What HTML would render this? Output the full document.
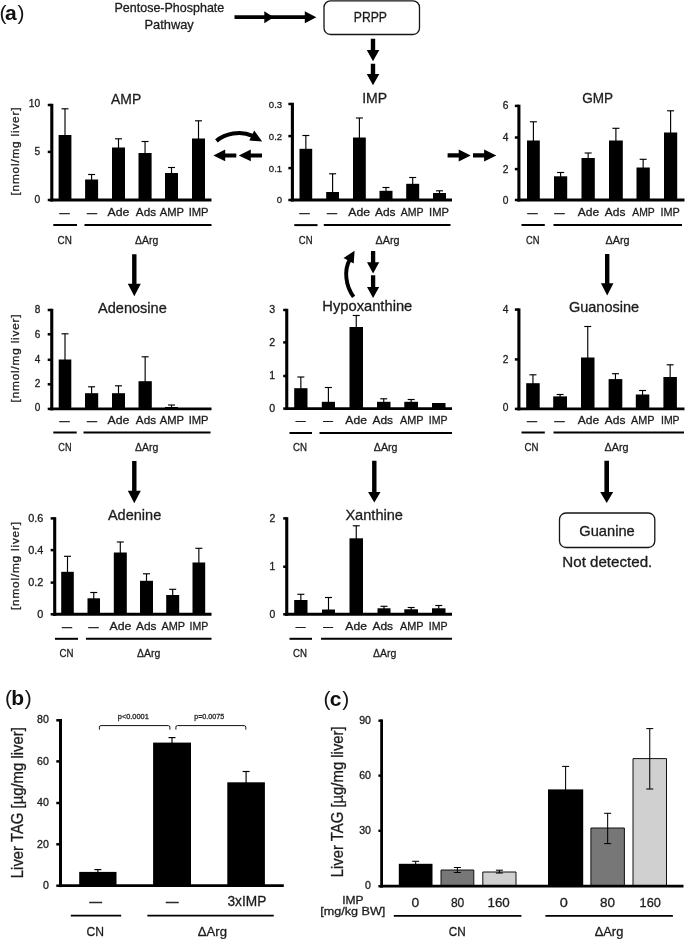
<!DOCTYPE html>
<html lang="en">
<head>
<meta charset="utf-8">
<title>Purine metabolite figure</title>
<style>
html,body{margin:0;padding:0;background:#fff;}
body{width:685px;height:939px;overflow:hidden;font-family:"Liberation Sans",sans-serif;}
svg{display:block;filter:blur(0.45px);}
</style>
</head>
<body>
<svg width="685" height="939" viewBox="0 0 685 939" font-family="'Liberation Sans', sans-serif" stroke-linejoin="round">
<rect width="685" height="939" fill="#fff"/>
<text x="-0.6" y="20.3" font-size="21" fill="#151515" stroke="none">(</text>
<text x="5" y="20.3" font-size="21" font-weight="bold" fill="#111" stroke="none">a</text>
<text x="17.4" y="20.3" font-size="21" fill="#151515" stroke="none">)</text>
<text x="4.9" y="705.4" font-size="21" fill="#151515" stroke="none">(</text>
<text x="11.3" y="705.4" font-size="21" font-weight="bold" fill="#111" stroke="none">b</text>
<text x="24.7" y="705.4" font-size="21" fill="#151515" stroke="none">)</text>
<text x="323.6" y="705.7" font-size="21" fill="#151515" stroke="none">(</text>
<text x="329.8" y="705.7" font-size="21" font-weight="bold" fill="#111" stroke="none">c</text>
<text x="342.3" y="705.7" font-size="21" fill="#151515" stroke="none">)</text>
<text x="114.5" y="12.2" font-size="13.2" textLength="109.8" lengthAdjust="spacingAndGlyphs" fill="#1c1c1c" stroke="#1c1c1c" stroke-width="0.3">Pentose-Phosphate</text>
<text x="144.5" y="28.8" font-size="13.2" textLength="49.3" lengthAdjust="spacingAndGlyphs" fill="#1c1c1c" stroke="#1c1c1c" stroke-width="0.3">Pathway</text>
<path d="M234.5 15.3 V19.1 H264.3 V23.2 L273.8 17.2 L264.3 11.2 V15.3 Z" fill="#000"/>
<path d="M268 15.3 V19.1 H304.8 V23.2 L316.3 17.2 L304.8 11.2 V15.3 Z" fill="#000"/>
<rect x="324" y="0.8" width="95.5" height="33.7" rx="6.5" ry="6.5" fill="#fff" stroke="#151515" stroke-width="1.3"/>
<text x="353.8" y="22.2" font-size="14.2" textLength="33.2" lengthAdjust="spacingAndGlyphs" fill="#1c1c1c" stroke="#1c1c1c" stroke-width="0.3">PRPP</text>
<path d="M370.8 38.8 H375.2 V50 H379.25 L373 61.3 L366.75 50 H370.8 Z" fill="#000"/>
<path d="M370.8 63.8 H375.2 V73.9 H379.25 L373 85.2 L366.75 73.9 H370.8 Z" fill="#000"/>
<line x1="65" y1="108.8" x2="65" y2="136" stroke="#000" stroke-width="1.15"/>
<line x1="61.5" y1="108.8" x2="68.5" y2="108.8" stroke="#000" stroke-width="1.15"/>
<line x1="91.6" y1="174.5" x2="91.6" y2="180.5" stroke="#000" stroke-width="1.15"/>
<line x1="88.1" y1="174.5" x2="95.1" y2="174.5" stroke="#000" stroke-width="1.15"/>
<line x1="118.5" y1="138.8" x2="118.5" y2="148.5" stroke="#000" stroke-width="1.15"/>
<line x1="115" y1="138.8" x2="122" y2="138.8" stroke="#000" stroke-width="1.15"/>
<line x1="145.05" y1="141.5" x2="145.05" y2="154" stroke="#000" stroke-width="1.15"/>
<line x1="141.55" y1="141.5" x2="148.55" y2="141.5" stroke="#000" stroke-width="1.15"/>
<line x1="171.5" y1="167.5" x2="171.5" y2="174" stroke="#000" stroke-width="1.15"/>
<line x1="168" y1="167.5" x2="175" y2="167.5" stroke="#000" stroke-width="1.15"/>
<line x1="198.5" y1="120.8" x2="198.5" y2="139.5" stroke="#000" stroke-width="1.15"/>
<line x1="195" y1="120.8" x2="202" y2="120.8" stroke="#000" stroke-width="1.15"/>
<rect x="58.6" y="135" width="12.8" height="65" fill="#000"/>
<rect x="85.1" y="179.5" width="13" height="20.5" fill="#000"/>
<rect x="112" y="147.5" width="13" height="52.5" fill="#000"/>
<rect x="138.5" y="153" width="13.1" height="47" fill="#000"/>
<rect x="165" y="173" width="13" height="27" fill="#000"/>
<rect x="192" y="138.5" width="13" height="61.5" fill="#000"/>
<line x1="51.8" y1="103.8" x2="51.8" y2="201.45" stroke="#000" stroke-width="3.1"/>
<line x1="50.25" y1="200" x2="211.5" y2="200" stroke="#000" stroke-width="2.9"/>
<line x1="47.75" y1="105" x2="51.8" y2="105" stroke="#000" stroke-width="2.5"/>
<text x="40.1" y="107.4" font-size="10.2" text-anchor="end" fill="#1c1c1c" stroke="#1c1c1c" stroke-width="0.3">10</text>
<line x1="47.75" y1="151.9" x2="51.8" y2="151.9" stroke="#000" stroke-width="2.5"/>
<text x="40.1" y="155.45" font-size="10.2" text-anchor="end" fill="#1c1c1c" stroke="#1c1c1c" stroke-width="0.3">5</text>
<line x1="47.75" y1="200" x2="51.8" y2="200" stroke="#000" stroke-width="2.5"/>
<text x="40.1" y="203.15" font-size="10.2" text-anchor="end" fill="#1c1c1c" stroke="#1c1c1c" stroke-width="0.3">0</text>
<text x="111.1" y="103.7" font-size="14.4" textLength="30.1" lengthAdjust="spacingAndGlyphs" fill="#1c1c1c" stroke="#1c1c1c" stroke-width="0.3">AMP</text>
<text transform="translate(19.1 151.5) rotate(-90)" x="-44" y="0" font-size="11.8" textLength="88" lengthAdjust="spacing" fill="#1c1c1c" stroke="#1c1c1c" stroke-width="0.3">[nmol/mg liver]</text>
<text x="59.5" y="216.2" font-size="10" textLength="10" lengthAdjust="spacingAndGlyphs" fill="#1c1c1c" stroke="#1c1c1c" stroke-width="0.5">—</text>
<text x="87" y="216.2" font-size="10" textLength="10" lengthAdjust="spacingAndGlyphs" fill="#1c1c1c" stroke="#1c1c1c" stroke-width="0.5">—</text>
<text x="107.5" y="216.3" font-size="11.6" textLength="21.9" lengthAdjust="spacingAndGlyphs" fill="#1c1c1c" stroke="#1c1c1c" stroke-width="0.3">Ade</text>
<text x="135.8" y="216.3" font-size="11.6" textLength="20.3" lengthAdjust="spacingAndGlyphs" fill="#1c1c1c" stroke="#1c1c1c" stroke-width="0.3">Ads</text>
<text x="159.7" y="216.3" font-size="11.6" textLength="24.3" lengthAdjust="spacingAndGlyphs" fill="#1c1c1c" stroke="#1c1c1c" stroke-width="0.3">AMP</text>
<text x="188.7" y="216.3" font-size="11.6" textLength="19.9" lengthAdjust="spacingAndGlyphs" fill="#1c1c1c" stroke="#1c1c1c" stroke-width="0.3">IMP</text>
<line x1="53.3" y1="225" x2="77" y2="225" stroke="#000" stroke-width="2"/>
<line x1="84.5" y1="225" x2="211.5" y2="225" stroke="#000" stroke-width="2"/>
<text x="57.5" y="244.3" font-size="11.3" textLength="14.3" lengthAdjust="spacingAndGlyphs" fill="#1c1c1c" stroke="#1c1c1c" stroke-width="0.3">CN</text>
<text x="135" y="244.3" font-size="11.3" textLength="23.3" lengthAdjust="spacingAndGlyphs" fill="#1c1c1c" stroke="#1c1c1c" stroke-width="0.3">ΔArg</text>
<line x1="305.85" y1="135.5" x2="305.85" y2="149.8" stroke="#000" stroke-width="1.15"/>
<line x1="302.35" y1="135.5" x2="309.35" y2="135.5" stroke="#000" stroke-width="1.15"/>
<line x1="332.6" y1="173.8" x2="332.6" y2="193" stroke="#000" stroke-width="1.15"/>
<line x1="329.1" y1="173.8" x2="336.1" y2="173.8" stroke="#000" stroke-width="1.15"/>
<line x1="359.4" y1="118" x2="359.4" y2="138.5" stroke="#000" stroke-width="1.15"/>
<line x1="355.9" y1="118" x2="362.9" y2="118" stroke="#000" stroke-width="1.15"/>
<line x1="386" y1="187.5" x2="386" y2="191.8" stroke="#000" stroke-width="1.15"/>
<line x1="382.5" y1="187.5" x2="389.5" y2="187.5" stroke="#000" stroke-width="1.15"/>
<line x1="412.7" y1="177.5" x2="412.7" y2="184.8" stroke="#000" stroke-width="1.15"/>
<line x1="409.2" y1="177.5" x2="416.2" y2="177.5" stroke="#000" stroke-width="1.15"/>
<line x1="439.5" y1="190.8" x2="439.5" y2="194" stroke="#000" stroke-width="1.15"/>
<line x1="436" y1="190.8" x2="443" y2="190.8" stroke="#000" stroke-width="1.15"/>
<rect x="299.5" y="148.8" width="12.7" height="51.2" fill="#000"/>
<rect x="326.2" y="192" width="12.8" height="8" fill="#000"/>
<rect x="353" y="137.5" width="12.8" height="62.5" fill="#000"/>
<rect x="379.5" y="190.8" width="13" height="9.2" fill="#000"/>
<rect x="406.2" y="183.8" width="13" height="16.2" fill="#000"/>
<rect x="433" y="193" width="13" height="7" fill="#000"/>
<line x1="292.4" y1="102.8" x2="292.4" y2="201.45" stroke="#000" stroke-width="3.1"/>
<line x1="290.85" y1="200" x2="452" y2="200" stroke="#000" stroke-width="2.9"/>
<line x1="288.35" y1="104" x2="292.4" y2="104" stroke="#000" stroke-width="2.5"/>
<text x="282.2" y="107.54" font-size="9.6" text-anchor="end" fill="#1c1c1c" stroke="#1c1c1c" stroke-width="0.3">0.3</text>
<line x1="288.35" y1="136.1" x2="292.4" y2="136.1" stroke="#000" stroke-width="2.5"/>
<text x="282.2" y="139.64" font-size="9.6" text-anchor="end" fill="#1c1c1c" stroke="#1c1c1c" stroke-width="0.3">0.2</text>
<line x1="288.35" y1="168.1" x2="292.4" y2="168.1" stroke="#000" stroke-width="2.5"/>
<text x="282.2" y="171.64" font-size="9.6" text-anchor="end" fill="#1c1c1c" stroke="#1c1c1c" stroke-width="0.3">0.1</text>
<line x1="288.35" y1="200" x2="292.4" y2="200" stroke="#000" stroke-width="2.5"/>
<text x="282.2" y="203.44" font-size="9.6" text-anchor="end" fill="#1c1c1c" stroke="#1c1c1c" stroke-width="0.3">0</text>
<text x="362.2" y="103" font-size="14.4" textLength="25" lengthAdjust="spacingAndGlyphs" fill="#1c1c1c" stroke="#1c1c1c" stroke-width="0.3">IMP</text>
<text x="299.5" y="216.2" font-size="10" textLength="10" lengthAdjust="spacingAndGlyphs" fill="#1c1c1c" stroke="#1c1c1c" stroke-width="0.5">—</text>
<text x="327" y="216.2" font-size="10" textLength="10" lengthAdjust="spacingAndGlyphs" fill="#1c1c1c" stroke="#1c1c1c" stroke-width="0.5">—</text>
<text x="348.3" y="216.3" font-size="11.6" textLength="21.8" lengthAdjust="spacingAndGlyphs" fill="#1c1c1c" stroke="#1c1c1c" stroke-width="0.3">Ade</text>
<text x="375" y="216.3" font-size="11.6" textLength="20.6" lengthAdjust="spacingAndGlyphs" fill="#1c1c1c" stroke="#1c1c1c" stroke-width="0.3">Ads</text>
<text x="400.8" y="216.3" font-size="11.6" textLength="22.8" lengthAdjust="spacingAndGlyphs" fill="#1c1c1c" stroke="#1c1c1c" stroke-width="0.3">AMP</text>
<text x="429.1" y="216.3" font-size="11.6" textLength="19.9" lengthAdjust="spacingAndGlyphs" fill="#1c1c1c" stroke="#1c1c1c" stroke-width="0.3">IMP</text>
<line x1="294.3" y1="225.1" x2="317.5" y2="225.1" stroke="#000" stroke-width="2"/>
<line x1="323.8" y1="225.1" x2="450.5" y2="225.1" stroke="#000" stroke-width="2"/>
<text x="298.8" y="243.8" font-size="11.3" textLength="13.7" lengthAdjust="spacingAndGlyphs" fill="#1c1c1c" stroke="#1c1c1c" stroke-width="0.3">CN</text>
<text x="375.5" y="243.8" font-size="11.3" textLength="24" lengthAdjust="spacingAndGlyphs" fill="#1c1c1c" stroke="#1c1c1c" stroke-width="0.3">ΔArg</text>
<line x1="533.4" y1="121.8" x2="533.4" y2="141.5" stroke="#000" stroke-width="1.15"/>
<line x1="529.9" y1="121.8" x2="536.9" y2="121.8" stroke="#000" stroke-width="1.15"/>
<line x1="560.6" y1="172.5" x2="560.6" y2="177.3" stroke="#000" stroke-width="1.15"/>
<line x1="557.1" y1="172.5" x2="564.1" y2="172.5" stroke="#000" stroke-width="1.15"/>
<line x1="588.15" y1="153" x2="588.15" y2="159" stroke="#000" stroke-width="1.15"/>
<line x1="584.65" y1="153" x2="591.65" y2="153" stroke="#000" stroke-width="1.15"/>
<line x1="615.9" y1="128.3" x2="615.9" y2="141.5" stroke="#000" stroke-width="1.15"/>
<line x1="612.4" y1="128.3" x2="619.4" y2="128.3" stroke="#000" stroke-width="1.15"/>
<line x1="643.15" y1="159.3" x2="643.15" y2="168.5" stroke="#000" stroke-width="1.15"/>
<line x1="639.65" y1="159.3" x2="646.65" y2="159.3" stroke="#000" stroke-width="1.15"/>
<line x1="670.6" y1="110.8" x2="670.6" y2="133.5" stroke="#000" stroke-width="1.15"/>
<line x1="667.1" y1="110.8" x2="674.1" y2="110.8" stroke="#000" stroke-width="1.15"/>
<rect x="527" y="140.5" width="12.8" height="59.5" fill="#000"/>
<rect x="554" y="176.3" width="13.2" height="23.7" fill="#000"/>
<rect x="581.5" y="158" width="13.3" height="42" fill="#000"/>
<rect x="609" y="140.5" width="13.8" height="59.5" fill="#000"/>
<rect x="636.5" y="167.5" width="13.3" height="32.5" fill="#000"/>
<rect x="664" y="132.5" width="13.2" height="67.5" fill="#000"/>
<line x1="518.9" y1="104.7" x2="518.9" y2="201.45" stroke="#000" stroke-width="3.1"/>
<line x1="517.35" y1="200" x2="684.5" y2="200" stroke="#000" stroke-width="2.9"/>
<line x1="514.85" y1="105.9" x2="518.9" y2="105.9" stroke="#000" stroke-width="2.5"/>
<text x="508.4" y="109.35" font-size="10.2" text-anchor="end" fill="#1c1c1c" stroke="#1c1c1c" stroke-width="0.3">6</text>
<line x1="514.85" y1="137.5" x2="518.9" y2="137.5" stroke="#000" stroke-width="2.5"/>
<text x="508.4" y="141.05" font-size="10.2" text-anchor="end" fill="#1c1c1c" stroke="#1c1c1c" stroke-width="0.3">4</text>
<line x1="514.85" y1="169.1" x2="518.9" y2="169.1" stroke="#000" stroke-width="2.5"/>
<text x="508.4" y="172.65" font-size="10.2" text-anchor="end" fill="#1c1c1c" stroke="#1c1c1c" stroke-width="0.3">2</text>
<line x1="514.85" y1="200" x2="518.9" y2="200" stroke="#000" stroke-width="2.5"/>
<text x="508.4" y="203.65" font-size="10.2" text-anchor="end" fill="#1c1c1c" stroke="#1c1c1c" stroke-width="0.3">0</text>
<text x="582.3" y="102.7" font-size="14.4" textLength="30.8" lengthAdjust="spacingAndGlyphs" fill="#1c1c1c" stroke="#1c1c1c" stroke-width="0.3">GMP</text>
<text x="527.5" y="216.2" font-size="10" textLength="10" lengthAdjust="spacingAndGlyphs" fill="#1c1c1c" stroke="#1c1c1c" stroke-width="0.5">—</text>
<text x="554.5" y="216.2" font-size="10" textLength="10" lengthAdjust="spacingAndGlyphs" fill="#1c1c1c" stroke="#1c1c1c" stroke-width="0.5">—</text>
<text x="577.8" y="216.3" font-size="11.6" textLength="21.4" lengthAdjust="spacingAndGlyphs" fill="#1c1c1c" stroke="#1c1c1c" stroke-width="0.3">Ade</text>
<text x="604.8" y="216.3" font-size="11.6" textLength="20.6" lengthAdjust="spacingAndGlyphs" fill="#1c1c1c" stroke="#1c1c1c" stroke-width="0.3">Ads</text>
<text x="632.3" y="216.3" font-size="11.6" textLength="22.5" lengthAdjust="spacingAndGlyphs" fill="#1c1c1c" stroke="#1c1c1c" stroke-width="0.3">AMP</text>
<text x="660.5" y="216.3" font-size="11.6" textLength="19.3" lengthAdjust="spacingAndGlyphs" fill="#1c1c1c" stroke="#1c1c1c" stroke-width="0.3">IMP</text>
<line x1="521.5" y1="225" x2="544.8" y2="225" stroke="#000" stroke-width="2"/>
<line x1="553.5" y1="225" x2="682" y2="225" stroke="#000" stroke-width="2"/>
<text x="526" y="243.8" font-size="11.3" textLength="13.5" lengthAdjust="spacingAndGlyphs" fill="#1c1c1c" stroke="#1c1c1c" stroke-width="0.3">CN</text>
<text x="605.5" y="243.8" font-size="11.3" textLength="24.1" lengthAdjust="spacingAndGlyphs" fill="#1c1c1c" stroke="#1c1c1c" stroke-width="0.3">ΔArg</text>
<path d="M216.4 140.9 C225 133.8 240 130.2 252.5 135.8" fill="none" stroke="#000" stroke-width="4"/>
<path d="M254.2 130.6 L262.2 141.4 L249.3 140.6 Z" fill="#000"/>
<path d="M236.3 153.4 V157.4 H225.2 V161.3 L213.4 155.4 L225.2 149.5 V153.4 Z" fill="#000"/>
<path d="M262 153.4 V157.4 H250.8 V161.3 L238.8 155.4 L250.8 149.5 V153.4 Z" fill="#000"/>
<path d="M447.6 153.35 V157.45 H458.7 V161.4 L470.7 155.4 L458.7 149.4 V153.35 Z" fill="#000"/>
<path d="M473 153.35 V157.45 H484.1 V161.4 L496.3 155.4 L484.1 149.4 V153.35 Z" fill="#000"/>
<path d="M132.1 254.2 H136.5 V283.7 H140.8 L134.3 296.2 L127.8 283.7 H132.1 Z" fill="#000"/>
<line x1="65" y1="333.8" x2="65" y2="360.5" stroke="#000" stroke-width="1.15"/>
<line x1="61.5" y1="333.8" x2="68.5" y2="333.8" stroke="#000" stroke-width="1.15"/>
<line x1="91.6" y1="386.8" x2="91.6" y2="394.2" stroke="#000" stroke-width="1.15"/>
<line x1="88.1" y1="386.8" x2="95.1" y2="386.8" stroke="#000" stroke-width="1.15"/>
<line x1="118.5" y1="385.8" x2="118.5" y2="394.2" stroke="#000" stroke-width="1.15"/>
<line x1="115" y1="385.8" x2="122" y2="385.8" stroke="#000" stroke-width="1.15"/>
<line x1="145.15" y1="356.8" x2="145.15" y2="382.2" stroke="#000" stroke-width="1.15"/>
<line x1="141.65" y1="356.8" x2="148.65" y2="356.8" stroke="#000" stroke-width="1.15"/>
<line x1="171.5" y1="405" x2="171.5" y2="408" stroke="#000" stroke-width="1.15"/>
<line x1="168" y1="405" x2="175" y2="405" stroke="#000" stroke-width="1.15"/>
<rect x="58.7" y="359.5" width="12.6" height="49.4" fill="#000"/>
<rect x="85" y="393.2" width="13.2" height="15.7" fill="#000"/>
<rect x="112" y="393.2" width="13" height="15.7" fill="#000"/>
<rect x="138.5" y="381.2" width="13.3" height="27.7" fill="#000"/>
<rect x="165" y="407" width="13" height="1.9" fill="#000"/>
<line x1="51.75" y1="308.8" x2="51.75" y2="410.35" stroke="#000" stroke-width="3.1"/>
<line x1="50.2" y1="408.9" x2="211.5" y2="408.9" stroke="#000" stroke-width="2.9"/>
<line x1="47.7" y1="310" x2="51.75" y2="310" stroke="#000" stroke-width="2.5"/>
<text x="40.2" y="313.18" font-size="10" text-anchor="end" fill="#1c1c1c" stroke="#1c1c1c" stroke-width="0.3">8</text>
<line x1="47.7" y1="334.3" x2="51.75" y2="334.3" stroke="#000" stroke-width="2.5"/>
<text x="40.2" y="337.68" font-size="10" text-anchor="end" fill="#1c1c1c" stroke="#1c1c1c" stroke-width="0.3">6</text>
<line x1="47.7" y1="359.8" x2="51.75" y2="359.8" stroke="#000" stroke-width="2.5"/>
<text x="40.2" y="362.88" font-size="10" text-anchor="end" fill="#1c1c1c" stroke="#1c1c1c" stroke-width="0.3">4</text>
<line x1="47.7" y1="384.3" x2="51.75" y2="384.3" stroke="#000" stroke-width="2.5"/>
<text x="40.2" y="387.18" font-size="10" text-anchor="end" fill="#1c1c1c" stroke="#1c1c1c" stroke-width="0.3">2</text>
<line x1="47.7" y1="408.9" x2="51.75" y2="408.9" stroke="#000" stroke-width="2.5"/>
<text x="40.2" y="411.48" font-size="10" text-anchor="end" fill="#1c1c1c" stroke="#1c1c1c" stroke-width="0.3">0</text>
<text x="98" y="313" font-size="14.4" textLength="68.8" lengthAdjust="spacingAndGlyphs" fill="#1c1c1c" stroke="#1c1c1c" stroke-width="0.3">Adenosine</text>
<text transform="translate(19.1 358.4) rotate(-90)" x="-44" y="0" font-size="11.8" textLength="88" lengthAdjust="spacing" fill="#1c1c1c" stroke="#1c1c1c" stroke-width="0.3">[nmol/mg liver]</text>
<text x="59.5" y="424.2" font-size="10" textLength="10" lengthAdjust="spacingAndGlyphs" fill="#1c1c1c" stroke="#1c1c1c" stroke-width="0.5">—</text>
<text x="87" y="424.2" font-size="10" textLength="10" lengthAdjust="spacingAndGlyphs" fill="#1c1c1c" stroke="#1c1c1c" stroke-width="0.5">—</text>
<text x="107.5" y="424.3" font-size="11.6" textLength="21.9" lengthAdjust="spacingAndGlyphs" fill="#1c1c1c" stroke="#1c1c1c" stroke-width="0.3">Ade</text>
<text x="135.8" y="424.3" font-size="11.6" textLength="20.3" lengthAdjust="spacingAndGlyphs" fill="#1c1c1c" stroke="#1c1c1c" stroke-width="0.3">Ads</text>
<text x="159.7" y="424.3" font-size="11.6" textLength="24.3" lengthAdjust="spacingAndGlyphs" fill="#1c1c1c" stroke="#1c1c1c" stroke-width="0.3">AMP</text>
<text x="188.7" y="424.3" font-size="11.6" textLength="19.9" lengthAdjust="spacingAndGlyphs" fill="#1c1c1c" stroke="#1c1c1c" stroke-width="0.3">IMP</text>
<line x1="53.3" y1="432.5" x2="76.7" y2="432.5" stroke="#000" stroke-width="2"/>
<line x1="83.5" y1="432.5" x2="210.5" y2="432.5" stroke="#000" stroke-width="2"/>
<text x="58.3" y="451" font-size="11.3" textLength="13.2" lengthAdjust="spacingAndGlyphs" fill="#1c1c1c" stroke="#1c1c1c" stroke-width="0.3">CN</text>
<text x="135" y="451" font-size="11.3" textLength="23.3" lengthAdjust="spacingAndGlyphs" fill="#1c1c1c" stroke="#1c1c1c" stroke-width="0.3">ΔArg</text>
<path d="M353.6 296.9 C345.6 286 343.6 270 349.9 259.5" fill="none" stroke="#000" stroke-width="3.9"/>
<path d="M354.6 250.8 L353.7 263.6 L343.5 258 Z" fill="#000"/>
<path d="M370.95 251 H375.25 V262.3 H379.2 L373.1 273.5 L367 262.3 H370.95 Z" fill="#000"/>
<path d="M370.95 275.2 H375.25 V287 H379.2 L373.1 298.1 L367 287 H370.95 Z" fill="#000"/>
<line x1="300.85" y1="377" x2="300.85" y2="389.2" stroke="#000" stroke-width="1.15"/>
<line x1="297.35" y1="377" x2="304.35" y2="377" stroke="#000" stroke-width="1.15"/>
<line x1="328.4" y1="387.5" x2="328.4" y2="402.8" stroke="#000" stroke-width="1.15"/>
<line x1="324.9" y1="387.5" x2="331.9" y2="387.5" stroke="#000" stroke-width="1.15"/>
<line x1="356.25" y1="315.5" x2="356.25" y2="328" stroke="#000" stroke-width="1.15"/>
<line x1="352.75" y1="315.5" x2="359.75" y2="315.5" stroke="#000" stroke-width="1.15"/>
<line x1="383.75" y1="398.8" x2="383.75" y2="402.8" stroke="#000" stroke-width="1.15"/>
<line x1="380.25" y1="398.8" x2="387.25" y2="398.8" stroke="#000" stroke-width="1.15"/>
<line x1="411.15" y1="399.5" x2="411.15" y2="402.8" stroke="#000" stroke-width="1.15"/>
<line x1="407.65" y1="399.5" x2="414.65" y2="399.5" stroke="#000" stroke-width="1.15"/>
<rect x="294.2" y="388.2" width="13.3" height="20.4" fill="#000"/>
<rect x="321.8" y="401.8" width="13.2" height="6.8" fill="#000"/>
<rect x="349.5" y="327" width="13.5" height="81.6" fill="#000"/>
<rect x="377" y="401.8" width="13.5" height="6.8" fill="#000"/>
<rect x="404.3" y="401.8" width="13.7" height="6.8" fill="#000"/>
<rect x="432" y="403" width="13.5" height="5.6" fill="#000"/>
<line x1="286.75" y1="308.8" x2="286.75" y2="410.05" stroke="#000" stroke-width="3.1"/>
<line x1="285.2" y1="408.6" x2="452" y2="408.6" stroke="#000" stroke-width="2.9"/>
<line x1="283.2" y1="310" x2="286.75" y2="310" stroke="#000" stroke-width="2.5"/>
<text x="275.2" y="313.09" font-size="10.6" text-anchor="end" fill="#1c1c1c" stroke="#1c1c1c" stroke-width="0.3">3</text>
<line x1="283.2" y1="342.4" x2="286.75" y2="342.4" stroke="#000" stroke-width="2.5"/>
<text x="275.2" y="346.09" font-size="10.6" text-anchor="end" fill="#1c1c1c" stroke="#1c1c1c" stroke-width="0.3">2</text>
<line x1="283.2" y1="376" x2="286.75" y2="376" stroke="#000" stroke-width="2.5"/>
<text x="275.2" y="379.19" font-size="10.6" text-anchor="end" fill="#1c1c1c" stroke="#1c1c1c" stroke-width="0.3">1</text>
<line x1="283.2" y1="408.6" x2="286.75" y2="408.6" stroke="#000" stroke-width="2.5"/>
<text x="275.2" y="411.59" font-size="10.6" text-anchor="end" fill="#1c1c1c" stroke="#1c1c1c" stroke-width="0.3">0</text>
<text x="322.3" y="311.1" font-size="14.4" textLength="90" lengthAdjust="spacingAndGlyphs" fill="#1c1c1c" stroke="#1c1c1c" stroke-width="0.3">Hypoxanthine</text>
<text x="295.8" y="424.2" font-size="9.7" textLength="9.7" lengthAdjust="spacingAndGlyphs" fill="#1c1c1c" stroke="#1c1c1c" stroke-width="0.5">—</text>
<text x="323.3" y="424.2" font-size="9.7" textLength="9.7" lengthAdjust="spacingAndGlyphs" fill="#1c1c1c" stroke="#1c1c1c" stroke-width="0.5">—</text>
<text x="345.3" y="424.3" font-size="11.6" textLength="21.6" lengthAdjust="spacingAndGlyphs" fill="#1c1c1c" stroke="#1c1c1c" stroke-width="0.3">Ade</text>
<text x="372.5" y="424.3" font-size="11.6" textLength="20.6" lengthAdjust="spacingAndGlyphs" fill="#1c1c1c" stroke="#1c1c1c" stroke-width="0.3">Ads</text>
<text x="400" y="424.3" font-size="11.6" textLength="23.6" lengthAdjust="spacingAndGlyphs" fill="#1c1c1c" stroke="#1c1c1c" stroke-width="0.3">AMP</text>
<text x="428.8" y="424.3" font-size="11.6" textLength="18.8" lengthAdjust="spacingAndGlyphs" fill="#1c1c1c" stroke="#1c1c1c" stroke-width="0.3">IMP</text>
<line x1="289.5" y1="433" x2="312" y2="433" stroke="#000" stroke-width="2"/>
<line x1="319.5" y1="433" x2="452" y2="433" stroke="#000" stroke-width="2"/>
<text x="293" y="450.8" font-size="11.3" textLength="14" lengthAdjust="spacingAndGlyphs" fill="#1c1c1c" stroke="#1c1c1c" stroke-width="0.3">CN</text>
<text x="373.8" y="450.8" font-size="11.3" textLength="23.7" lengthAdjust="spacingAndGlyphs" fill="#1c1c1c" stroke="#1c1c1c" stroke-width="0.3">ΔArg</text>
<path d="M605 254 H609.4 V283.2 H613.45 L607.2 295.5 L600.95 283.2 H605 Z" fill="#000"/>
<line x1="532.95" y1="374.8" x2="532.95" y2="384.2" stroke="#000" stroke-width="1.15"/>
<line x1="529.45" y1="374.8" x2="536.45" y2="374.8" stroke="#000" stroke-width="1.15"/>
<line x1="560.1" y1="394.5" x2="560.1" y2="397.4" stroke="#000" stroke-width="1.15"/>
<line x1="556.6" y1="394.5" x2="563.6" y2="394.5" stroke="#000" stroke-width="1.15"/>
<line x1="587.75" y1="326.5" x2="587.75" y2="358.5" stroke="#000" stroke-width="1.15"/>
<line x1="584.25" y1="326.5" x2="591.25" y2="326.5" stroke="#000" stroke-width="1.15"/>
<line x1="615.45" y1="373.7" x2="615.45" y2="380.1" stroke="#000" stroke-width="1.15"/>
<line x1="611.95" y1="373.7" x2="618.95" y2="373.7" stroke="#000" stroke-width="1.15"/>
<line x1="642.55" y1="390.5" x2="642.55" y2="395.5" stroke="#000" stroke-width="1.15"/>
<line x1="639.05" y1="390.5" x2="646.05" y2="390.5" stroke="#000" stroke-width="1.15"/>
<line x1="670.15" y1="364.8" x2="670.15" y2="378" stroke="#000" stroke-width="1.15"/>
<line x1="666.65" y1="364.8" x2="673.65" y2="364.8" stroke="#000" stroke-width="1.15"/>
<rect x="526.2" y="383.2" width="13.5" height="25.7" fill="#000"/>
<rect x="553.2" y="396.4" width="13.8" height="12.5" fill="#000"/>
<rect x="581" y="357.5" width="13.5" height="51.4" fill="#000"/>
<rect x="608.6" y="379.1" width="13.7" height="29.8" fill="#000"/>
<rect x="635.8" y="394.5" width="13.5" height="14.4" fill="#000"/>
<rect x="663.4" y="377" width="13.5" height="31.9" fill="#000"/>
<line x1="518.9" y1="308.4" x2="518.9" y2="410.35" stroke="#000" stroke-width="3.1"/>
<line x1="517.35" y1="408.9" x2="684.5" y2="408.9" stroke="#000" stroke-width="2.9"/>
<line x1="514.85" y1="309.6" x2="518.9" y2="309.6" stroke="#000" stroke-width="2.5"/>
<text x="508.4" y="312.95" font-size="10.2" text-anchor="end" fill="#1c1c1c" stroke="#1c1c1c" stroke-width="0.3">4</text>
<line x1="514.85" y1="359.4" x2="518.9" y2="359.4" stroke="#000" stroke-width="2.5"/>
<text x="508.4" y="362.75" font-size="10.2" text-anchor="end" fill="#1c1c1c" stroke="#1c1c1c" stroke-width="0.3">2</text>
<line x1="514.85" y1="408.9" x2="518.9" y2="408.9" stroke="#000" stroke-width="2.5"/>
<text x="508.4" y="411.45" font-size="10.2" text-anchor="end" fill="#1c1c1c" stroke="#1c1c1c" stroke-width="0.3">0</text>
<text x="568.9" y="311.5" font-size="14.4" textLength="70.2" lengthAdjust="spacingAndGlyphs" fill="#1c1c1c" stroke="#1c1c1c" stroke-width="0.3">Guanosine</text>
<text x="527" y="424.2" font-size="10" textLength="10" lengthAdjust="spacingAndGlyphs" fill="#1c1c1c" stroke="#1c1c1c" stroke-width="0.5">—</text>
<text x="554.5" y="424.2" font-size="10" textLength="10" lengthAdjust="spacingAndGlyphs" fill="#1c1c1c" stroke="#1c1c1c" stroke-width="0.5">—</text>
<text x="577.8" y="424.3" font-size="11.6" textLength="21.4" lengthAdjust="spacingAndGlyphs" fill="#1c1c1c" stroke="#1c1c1c" stroke-width="0.3">Ade</text>
<text x="604.8" y="424.3" font-size="11.6" textLength="20.6" lengthAdjust="spacingAndGlyphs" fill="#1c1c1c" stroke="#1c1c1c" stroke-width="0.3">Ads</text>
<text x="631" y="424.3" font-size="11.6" textLength="23.5" lengthAdjust="spacingAndGlyphs" fill="#1c1c1c" stroke="#1c1c1c" stroke-width="0.3">AMP</text>
<text x="661" y="424.3" font-size="11.6" textLength="18.6" lengthAdjust="spacingAndGlyphs" fill="#1c1c1c" stroke="#1c1c1c" stroke-width="0.3">IMP</text>
<line x1="521.5" y1="432.5" x2="544.8" y2="432.5" stroke="#000" stroke-width="2"/>
<line x1="553.5" y1="432.5" x2="684" y2="432.5" stroke="#000" stroke-width="2"/>
<text x="524.5" y="450.8" font-size="11.3" textLength="14" lengthAdjust="spacingAndGlyphs" fill="#1c1c1c" stroke="#1c1c1c" stroke-width="0.3">CN</text>
<text x="604.5" y="450.8" font-size="11.3" textLength="24" lengthAdjust="spacingAndGlyphs" fill="#1c1c1c" stroke="#1c1c1c" stroke-width="0.3">ΔArg</text>
<path d="M132.1 461 H136.5 V490.8 H140.8 L134.3 503.3 L127.8 490.8 H132.1 Z" fill="#000"/>
<line x1="67.5" y1="556.3" x2="67.5" y2="572.8" stroke="#000" stroke-width="1.15"/>
<line x1="64" y1="556.3" x2="71" y2="556.3" stroke="#000" stroke-width="1.15"/>
<line x1="93.75" y1="592.5" x2="93.75" y2="599.3" stroke="#000" stroke-width="1.15"/>
<line x1="90.25" y1="592.5" x2="97.25" y2="592.5" stroke="#000" stroke-width="1.15"/>
<line x1="120.3" y1="542" x2="120.3" y2="553.5" stroke="#000" stroke-width="1.15"/>
<line x1="116.8" y1="542" x2="123.8" y2="542" stroke="#000" stroke-width="1.15"/>
<line x1="146.5" y1="573.8" x2="146.5" y2="581.8" stroke="#000" stroke-width="1.15"/>
<line x1="143" y1="573.8" x2="150" y2="573.8" stroke="#000" stroke-width="1.15"/>
<line x1="172.7" y1="589.3" x2="172.7" y2="596" stroke="#000" stroke-width="1.15"/>
<line x1="169.2" y1="589.3" x2="176.2" y2="589.3" stroke="#000" stroke-width="1.15"/>
<line x1="198.85" y1="548.3" x2="198.85" y2="563.5" stroke="#000" stroke-width="1.15"/>
<line x1="195.35" y1="548.3" x2="202.35" y2="548.3" stroke="#000" stroke-width="1.15"/>
<rect x="61.2" y="571.8" width="12.6" height="42.5" fill="#000"/>
<rect x="87.5" y="598.3" width="12.5" height="16" fill="#000"/>
<rect x="113.8" y="552.5" width="13" height="61.8" fill="#000"/>
<rect x="140" y="580.8" width="13" height="33.5" fill="#000"/>
<rect x="166.2" y="595" width="13" height="19.3" fill="#000"/>
<rect x="192.5" y="562.5" width="12.7" height="51.8" fill="#000"/>
<line x1="54.7" y1="517.2" x2="54.7" y2="615.75" stroke="#000" stroke-width="3.1"/>
<line x1="53.15" y1="614.3" x2="211.5" y2="614.3" stroke="#000" stroke-width="2.9"/>
<line x1="50.65" y1="518.4" x2="54.7" y2="518.4" stroke="#000" stroke-width="2.5"/>
<text x="43.3" y="522.2" font-size="10.9" text-anchor="end" fill="#1c1c1c" stroke="#1c1c1c" stroke-width="0.3">0.6</text>
<line x1="50.65" y1="550.1" x2="54.7" y2="550.1" stroke="#000" stroke-width="2.5"/>
<text x="43.3" y="553.95" font-size="10.9" text-anchor="end" fill="#1c1c1c" stroke="#1c1c1c" stroke-width="0.3">0.4</text>
<line x1="50.65" y1="582.6" x2="54.7" y2="582.6" stroke="#000" stroke-width="2.5"/>
<text x="43.3" y="586" font-size="10.9" text-anchor="end" fill="#1c1c1c" stroke="#1c1c1c" stroke-width="0.3">0.2</text>
<line x1="50.65" y1="614.3" x2="54.7" y2="614.3" stroke="#000" stroke-width="2.5"/>
<text x="43.3" y="617.65" font-size="10.9" text-anchor="end" fill="#1c1c1c" stroke="#1c1c1c" stroke-width="0.3">0</text>
<text x="107.9" y="520.3" font-size="14.4" textLength="53.4" lengthAdjust="spacingAndGlyphs" fill="#1c1c1c" stroke="#1c1c1c" stroke-width="0.3">Adenine</text>
<text transform="translate(19.1 566) rotate(-90)" x="-44" y="0" font-size="11.8" textLength="88" lengthAdjust="spacing" fill="#1c1c1c" stroke="#1c1c1c" stroke-width="0.3">[nmol/mg liver]</text>
<text x="62" y="630.2" font-size="10" textLength="10" lengthAdjust="spacingAndGlyphs" fill="#1c1c1c" stroke="#1c1c1c" stroke-width="0.5">—</text>
<text x="88.5" y="630.2" font-size="10" textLength="10" lengthAdjust="spacingAndGlyphs" fill="#1c1c1c" stroke="#1c1c1c" stroke-width="0.5">—</text>
<text x="109.5" y="630.3" font-size="11.6" textLength="21.9" lengthAdjust="spacingAndGlyphs" fill="#1c1c1c" stroke="#1c1c1c" stroke-width="0.3">Ade</text>
<text x="136" y="630.3" font-size="11.6" textLength="20.4" lengthAdjust="spacingAndGlyphs" fill="#1c1c1c" stroke="#1c1c1c" stroke-width="0.3">Ads</text>
<text x="161.5" y="630.3" font-size="11.6" textLength="23.6" lengthAdjust="spacingAndGlyphs" fill="#1c1c1c" stroke="#1c1c1c" stroke-width="0.3">AMP</text>
<text x="189.5" y="630.3" font-size="11.6" textLength="18.8" lengthAdjust="spacingAndGlyphs" fill="#1c1c1c" stroke="#1c1c1c" stroke-width="0.3">IMP</text>
<line x1="55" y1="638.8" x2="78" y2="638.8" stroke="#000" stroke-width="2"/>
<line x1="86" y1="638.8" x2="211.5" y2="638.8" stroke="#000" stroke-width="2"/>
<text x="59.5" y="657.1" font-size="11.3" textLength="14" lengthAdjust="spacingAndGlyphs" fill="#1c1c1c" stroke="#1c1c1c" stroke-width="0.3">CN</text>
<text x="137" y="657.1" font-size="11.3" textLength="23.3" lengthAdjust="spacingAndGlyphs" fill="#1c1c1c" stroke="#1c1c1c" stroke-width="0.3">ΔArg</text>
<path d="M372.1 460.8 H376.5 V492.1 H380.55 L374.3 502.6 L368.05 492.1 H372.1 Z" fill="#000"/>
<line x1="300.85" y1="594.3" x2="300.85" y2="601" stroke="#000" stroke-width="1.15"/>
<line x1="297.35" y1="594.3" x2="304.35" y2="594.3" stroke="#000" stroke-width="1.15"/>
<line x1="328.5" y1="597.5" x2="328.5" y2="610.5" stroke="#000" stroke-width="1.15"/>
<line x1="325" y1="597.5" x2="332" y2="597.5" stroke="#000" stroke-width="1.15"/>
<line x1="356.25" y1="525.8" x2="356.25" y2="539.3" stroke="#000" stroke-width="1.15"/>
<line x1="352.75" y1="525.8" x2="359.75" y2="525.8" stroke="#000" stroke-width="1.15"/>
<line x1="384" y1="606.3" x2="384" y2="609.3" stroke="#000" stroke-width="1.15"/>
<line x1="380.5" y1="606.3" x2="387.5" y2="606.3" stroke="#000" stroke-width="1.15"/>
<line x1="411.15" y1="607.5" x2="411.15" y2="610.3" stroke="#000" stroke-width="1.15"/>
<line x1="407.65" y1="607.5" x2="414.65" y2="607.5" stroke="#000" stroke-width="1.15"/>
<line x1="438.75" y1="605.5" x2="438.75" y2="609.3" stroke="#000" stroke-width="1.15"/>
<line x1="435.25" y1="605.5" x2="442.25" y2="605.5" stroke="#000" stroke-width="1.15"/>
<rect x="294.2" y="600" width="13.3" height="14.3" fill="#000"/>
<rect x="322" y="609.5" width="13" height="4.8" fill="#000"/>
<rect x="349.5" y="538.3" width="13.5" height="76" fill="#000"/>
<rect x="377.5" y="608.3" width="13" height="6" fill="#000"/>
<rect x="404.3" y="609.3" width="13.7" height="5" fill="#000"/>
<rect x="432" y="608.3" width="13.5" height="6" fill="#000"/>
<line x1="286.75" y1="517.2" x2="286.75" y2="615.75" stroke="#000" stroke-width="3.1"/>
<line x1="285.2" y1="614.3" x2="452" y2="614.3" stroke="#000" stroke-width="2.9"/>
<line x1="283.2" y1="518.4" x2="286.75" y2="518.4" stroke="#000" stroke-width="2.5"/>
<text x="275.2" y="522.02" font-size="10.4" text-anchor="end" fill="#1c1c1c" stroke="#1c1c1c" stroke-width="0.3">2</text>
<line x1="283.2" y1="566.7" x2="286.75" y2="566.7" stroke="#000" stroke-width="2.5"/>
<text x="275.2" y="570.22" font-size="10.4" text-anchor="end" fill="#1c1c1c" stroke="#1c1c1c" stroke-width="0.3">1</text>
<line x1="283.2" y1="614.3" x2="286.75" y2="614.3" stroke="#000" stroke-width="2.5"/>
<text x="275.2" y="617.52" font-size="10.4" text-anchor="end" fill="#1c1c1c" stroke="#1c1c1c" stroke-width="0.3">0</text>
<text x="345.4" y="519.6" font-size="14.4" textLength="57.6" lengthAdjust="spacingAndGlyphs" fill="#1c1c1c" stroke="#1c1c1c" stroke-width="0.3">Xanthine</text>
<text x="295.8" y="630.2" font-size="9.7" textLength="9.7" lengthAdjust="spacingAndGlyphs" fill="#1c1c1c" stroke="#1c1c1c" stroke-width="0.5">—</text>
<text x="323.3" y="630.2" font-size="9.7" textLength="9.7" lengthAdjust="spacingAndGlyphs" fill="#1c1c1c" stroke="#1c1c1c" stroke-width="0.5">—</text>
<text x="345.3" y="630.2" font-size="11.6" textLength="21.6" lengthAdjust="spacingAndGlyphs" fill="#1c1c1c" stroke="#1c1c1c" stroke-width="0.3">Ade</text>
<text x="372.5" y="630.2" font-size="11.6" textLength="20.6" lengthAdjust="spacingAndGlyphs" fill="#1c1c1c" stroke="#1c1c1c" stroke-width="0.3">Ads</text>
<text x="400" y="630.2" font-size="11.6" textLength="23.6" lengthAdjust="spacingAndGlyphs" fill="#1c1c1c" stroke="#1c1c1c" stroke-width="0.3">AMP</text>
<text x="428.8" y="630.2" font-size="11.6" textLength="18.8" lengthAdjust="spacingAndGlyphs" fill="#1c1c1c" stroke="#1c1c1c" stroke-width="0.3">IMP</text>
<line x1="289.5" y1="638.8" x2="312" y2="638.8" stroke="#000" stroke-width="2"/>
<line x1="321" y1="638.8" x2="452" y2="638.8" stroke="#000" stroke-width="2"/>
<text x="293" y="657.3" font-size="11.3" textLength="14" lengthAdjust="spacingAndGlyphs" fill="#1c1c1c" stroke="#1c1c1c" stroke-width="0.3">CN</text>
<text x="373" y="657.3" font-size="11.3" textLength="23.3" lengthAdjust="spacingAndGlyphs" fill="#1c1c1c" stroke="#1c1c1c" stroke-width="0.3">ΔArg</text>
<path d="M604.4 460.8 H609 V492 H613.2 L606.7 503 L600.2 492 H604.4 Z" fill="#000"/>
<rect x="559.5" y="513" width="95.3" height="34.5" rx="6.5" ry="6.5" fill="#fff" stroke="#151515" stroke-width="1.3"/>
<text x="579.3" y="535.5" font-size="14.2" textLength="55.4" lengthAdjust="spacingAndGlyphs" fill="#1c1c1c" stroke="#1c1c1c" stroke-width="0.3">Guanine</text>
<text x="562.3" y="567" font-size="14" textLength="90" lengthAdjust="spacingAndGlyphs" fill="#1c1c1c" stroke="#1c1c1c" stroke-width="0.3">Not detected.</text>
<line x1="97.9" y1="869.6" x2="97.9" y2="873" stroke="#000" stroke-width="1.15"/>
<line x1="94.4" y1="869.6" x2="101.4" y2="869.6" stroke="#000" stroke-width="1.15"/>
<line x1="172" y1="737.6" x2="172" y2="744" stroke="#000" stroke-width="1.15"/>
<line x1="168.5" y1="737.6" x2="175.5" y2="737.6" stroke="#000" stroke-width="1.15"/>
<line x1="246.1" y1="771.5" x2="246.1" y2="784" stroke="#000" stroke-width="1.15"/>
<line x1="242.6" y1="771.5" x2="249.6" y2="771.5" stroke="#000" stroke-width="1.15"/>
<rect x="79.2" y="871.9" width="37.3" height="13.7" fill="#000"/>
<rect x="153.1" y="742.6" width="37.9" height="143" fill="#000"/>
<rect x="227.3" y="782.3" width="37.6" height="103.3" fill="#000"/>
<line x1="60.5" y1="719" x2="60.5" y2="887.1" stroke="#000" stroke-width="3"/>
<line x1="59" y1="885.7" x2="283.8" y2="885.7" stroke="#000" stroke-width="2.8"/>
<line x1="56.3" y1="720.3" x2="60.5" y2="720.3" stroke="#000" stroke-width="2.5"/>
<text x="48.9" y="722.59" font-size="10.6" text-anchor="end" fill="#1c1c1c" stroke="#1c1c1c" stroke-width="0.3">80</text>
<line x1="56.3" y1="761.4" x2="60.5" y2="761.4" stroke="#000" stroke-width="2.5"/>
<text x="48.9" y="764.69" font-size="10.6" text-anchor="end" fill="#1c1c1c" stroke="#1c1c1c" stroke-width="0.3">60</text>
<line x1="56.3" y1="803" x2="60.5" y2="803" stroke="#000" stroke-width="2.5"/>
<text x="48.9" y="806.19" font-size="10.6" text-anchor="end" fill="#1c1c1c" stroke="#1c1c1c" stroke-width="0.3">40</text>
<line x1="56.3" y1="844.3" x2="60.5" y2="844.3" stroke="#000" stroke-width="2.5"/>
<text x="48.9" y="848.29" font-size="10.6" text-anchor="end" fill="#1c1c1c" stroke="#1c1c1c" stroke-width="0.3">20</text>
<line x1="56.3" y1="885.7" x2="60.5" y2="885.7" stroke="#000" stroke-width="2.5"/>
<text x="48.9" y="889.29" font-size="10.6" text-anchor="end" fill="#1c1c1c" stroke="#1c1c1c" stroke-width="0.3">0</text>
<text transform="translate(23.2 802.7) rotate(-90)" x="-75.5" y="0" font-size="16" textLength="151" lengthAdjust="spacingAndGlyphs" fill="#1c1c1c" stroke="#1c1c1c" stroke-width="0.3">Liver TAG [µg/mg liver]</text>
<path d="M99.4 729.6 V727.2 Q99.4 725.6 101 725.6 H168.3 Q169.9 725.6 169.9 727.2 V729.6" fill="none" stroke="#111" stroke-width="1"/>
<path d="M175.9 729.6 V727.2 Q175.9 725.6 177.5 725.6 H244.2 Q245.8 725.6 245.8 727.2 V729.6" fill="none" stroke="#111" stroke-width="1"/>
<text x="117.8" y="718.5" font-size="6.5" textLength="31" lengthAdjust="spacingAndGlyphs" fill="#2a2a2a" stroke="#2a2a2a" stroke-width="0.3">p&lt;0.0001</text>
<text x="194.2" y="718.5" font-size="6.5" textLength="30" lengthAdjust="spacingAndGlyphs" fill="#2a2a2a" stroke="#2a2a2a" stroke-width="0.3">p=0.0075</text>
<text x="89.4" y="905.9" font-size="12.4" textLength="12.4" lengthAdjust="spacingAndGlyphs" fill="#1c1c1c" stroke="#1c1c1c" stroke-width="0.55">—</text>
<text x="166" y="905.9" font-size="12.4" textLength="12.4" lengthAdjust="spacingAndGlyphs" fill="#1c1c1c" stroke="#1c1c1c" stroke-width="0.55">—</text>
<text x="227.5" y="906.2" font-size="13.8" textLength="38.8" lengthAdjust="spacingAndGlyphs" fill="#1c1c1c" stroke="#1c1c1c" stroke-width="0.3">3xIMP</text>
<line x1="70.8" y1="915.6" x2="121.2" y2="915.6" stroke="#000" stroke-width="1.8"/>
<line x1="147.4" y1="915.6" x2="273.7" y2="915.6" stroke="#000" stroke-width="1.8"/>
<text x="86.5" y="936" font-size="13.6" textLength="17.5" lengthAdjust="spacingAndGlyphs" fill="#1c1c1c" stroke="#1c1c1c" stroke-width="0.3">CN</text>
<text x="197.8" y="936" font-size="13.6" textLength="29.2" lengthAdjust="spacingAndGlyphs" fill="#1c1c1c" stroke="#1c1c1c" stroke-width="0.3">ΔArg</text>
<line x1="415.65" y1="861.3" x2="415.65" y2="864.8" stroke="#000" stroke-width="1.05"/>
<line x1="412.15" y1="861.3" x2="419.15" y2="861.3" stroke="#000" stroke-width="1.05"/>
<rect x="398.8" y="863.8" width="33.7" height="22.4" fill="#000"/>
<rect x="441" y="870" width="32.8" height="16.2" fill="#777777" stroke="#111" stroke-width="1"/>
<line x1="457.4" y1="867.5" x2="457.4" y2="872.5" stroke="#000" stroke-width="1.05"/>
<line x1="453.9" y1="867.5" x2="460.9" y2="867.5" stroke="#000" stroke-width="1.05"/>
<line x1="453.9" y1="872.5" x2="460.9" y2="872.5" stroke="#000" stroke-width="1.05"/>
<rect x="482.8" y="872" width="33.2" height="14.2" fill="#d0d0d0" stroke="#111" stroke-width="1"/>
<line x1="499.4" y1="870.2" x2="499.4" y2="873" stroke="#000" stroke-width="1.05"/>
<line x1="495.9" y1="870.2" x2="502.9" y2="870.2" stroke="#000" stroke-width="1.05"/>
<line x1="495.9" y1="873" x2="502.9" y2="873" stroke="#000" stroke-width="1.05"/>
<line x1="565.6" y1="766.4" x2="565.6" y2="790.4" stroke="#000" stroke-width="1.05"/>
<line x1="562.1" y1="766.4" x2="569.1" y2="766.4" stroke="#000" stroke-width="1.05"/>
<rect x="548" y="789.4" width="35.2" height="96.8" fill="#000"/>
<rect x="590.9" y="828" width="33.5" height="58.2" fill="#777777" stroke="#111" stroke-width="1"/>
<line x1="607.65" y1="813.3" x2="607.65" y2="843.6" stroke="#000" stroke-width="1.05"/>
<line x1="604.15" y1="813.3" x2="611.15" y2="813.3" stroke="#000" stroke-width="1.05"/>
<line x1="604.15" y1="843.6" x2="611.15" y2="843.6" stroke="#000" stroke-width="1.05"/>
<rect x="633" y="758.6" width="33.5" height="127.6" fill="#d0d0d0" stroke="#111" stroke-width="1"/>
<line x1="649.75" y1="728.6" x2="649.75" y2="789" stroke="#000" stroke-width="1.05"/>
<line x1="646.25" y1="728.6" x2="653.25" y2="728.6" stroke="#000" stroke-width="1.05"/>
<line x1="646.25" y1="789" x2="653.25" y2="789" stroke="#000" stroke-width="1.05"/>
<line x1="381.6" y1="719.4" x2="381.6" y2="887.6" stroke="#000" stroke-width="2.8"/>
<line x1="380.2" y1="886.2" x2="683.5" y2="886.2" stroke="#000" stroke-width="2.8"/>
<line x1="378.4" y1="720.7" x2="381.6" y2="720.7" stroke="#000" stroke-width="2.4"/>
<text x="371" y="723.59" font-size="10.6" text-anchor="end" fill="#1c1c1c" stroke="#1c1c1c" stroke-width="0.3">90</text>
<line x1="378.4" y1="775.6" x2="381.6" y2="775.6" stroke="#000" stroke-width="2.4"/>
<text x="371" y="778.69" font-size="10.6" text-anchor="end" fill="#1c1c1c" stroke="#1c1c1c" stroke-width="0.3">60</text>
<line x1="378.4" y1="830.8" x2="381.6" y2="830.8" stroke="#000" stroke-width="2.4"/>
<text x="371" y="833.89" font-size="10.6" text-anchor="end" fill="#1c1c1c" stroke="#1c1c1c" stroke-width="0.3">30</text>
<line x1="378.4" y1="886.2" x2="381.6" y2="886.2" stroke="#000" stroke-width="2.4"/>
<text x="371" y="889.39" font-size="10.6" text-anchor="end" fill="#1c1c1c" stroke="#1c1c1c" stroke-width="0.3">0</text>
<text transform="translate(343.2 801.8) rotate(-90)" x="-75.5" y="0" font-size="16" textLength="151" lengthAdjust="spacingAndGlyphs" fill="#1c1c1c" stroke="#1c1c1c" stroke-width="0.3">Liver TAG [µg/mg liver]</text>
<text x="342.2" y="903.7" font-size="11.2" textLength="21.4" lengthAdjust="spacingAndGlyphs" fill="#1c1c1c" stroke="#1c1c1c" stroke-width="0.3">IMP</text>
<text x="320.3" y="915" font-size="11.4" textLength="65" lengthAdjust="spacingAndGlyphs" fill="#1c1c1c" stroke="#1c1c1c" stroke-width="0.3">[mg/kg BW]</text>
<text x="411.6" y="906.6" font-size="13.2" textLength="7.7" lengthAdjust="spacingAndGlyphs" fill="#1c1c1c" stroke="#1c1c1c" stroke-width="0.3">0</text>
<text x="450.9" y="906.6" font-size="13.2" textLength="13.4" lengthAdjust="spacingAndGlyphs" fill="#1c1c1c" stroke="#1c1c1c" stroke-width="0.3">80</text>
<text x="487.5" y="906.6" font-size="13.2" textLength="22.3" lengthAdjust="spacingAndGlyphs" fill="#1c1c1c" stroke="#1c1c1c" stroke-width="0.3">160</text>
<text x="559.8" y="906.6" font-size="13.2" textLength="8.1" lengthAdjust="spacingAndGlyphs" fill="#1c1c1c" stroke="#1c1c1c" stroke-width="0.3">0</text>
<text x="599.9" y="906.6" font-size="13.2" textLength="15" lengthAdjust="spacingAndGlyphs" fill="#1c1c1c" stroke="#1c1c1c" stroke-width="0.3">80</text>
<text x="639.6" y="906.6" font-size="13.2" textLength="21.3" lengthAdjust="spacingAndGlyphs" fill="#1c1c1c" stroke="#1c1c1c" stroke-width="0.3">160</text>
<line x1="393.8" y1="915.8" x2="521.4" y2="915.8" stroke="#000" stroke-width="1.8"/>
<line x1="545.4" y1="915.8" x2="672.9" y2="915.8" stroke="#000" stroke-width="1.8"/>
<text x="448.8" y="935.6" font-size="12.6" textLength="17" lengthAdjust="spacingAndGlyphs" fill="#1c1c1c" stroke="#1c1c1c" stroke-width="0.3">CN</text>
<text x="594.7" y="935.6" font-size="12.6" textLength="28.6" lengthAdjust="spacingAndGlyphs" fill="#1c1c1c" stroke="#1c1c1c" stroke-width="0.3">ΔArg</text>
</svg>
</body>
</html>
